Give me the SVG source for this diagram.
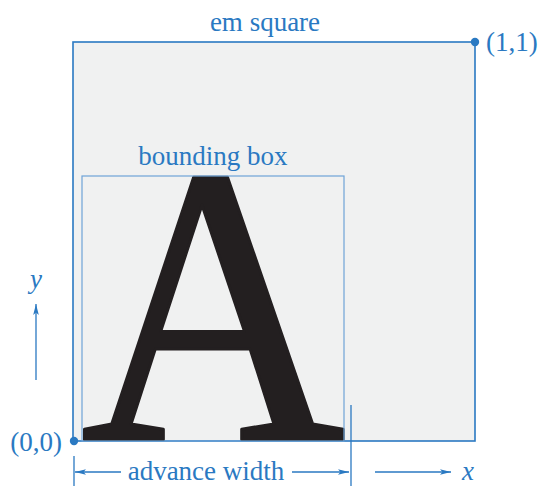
<svg xmlns="http://www.w3.org/2000/svg" width="541" height="486" viewBox="0 0 541 486">
<style>
.lbl{font-family:"Liberation Serif","Times New Roman",serif;font-size:27px;fill:#2a79c2}
.it{font-style:italic}
.ln{stroke:#2a79c2;stroke-width:1.3;fill:none}
</style>
<defs>
<marker id="ah" markerWidth="12" markerHeight="8" refX="11" refY="4" orient="auto" markerUnits="userSpaceOnUse">
<path d="M0,1.2 L11,4 L0,6.8 L2.5,4 Z" fill="#2a79c2"/>
</marker>
</defs>
<rect width="541" height="486" fill="#ffffff"/>
<g id="em-square">
<rect x="73" y="42" width="402" height="399" fill="#f0f1f1" stroke="#2a79c2" stroke-width="1.6"/>
<text class="lbl" x="265" y="31" text-anchor="middle">em square</text>
</g>
<g id="glyph">
<text transform="translate(80.8,439.5) scale(0.939,1.016)" font-family="Liberation Serif,serif" font-size="391" fill="#231f20" stroke="#231f20" stroke-width="3" stroke-linejoin="round">A</text>
</g>
<g id="bounding-box">
<rect x="82" y="176" width="262" height="265" fill="none" stroke="#6ea3d8" stroke-width="1.2"/>
<text class="lbl" x="213" y="165" text-anchor="middle">bounding box</text>
</g>
<g id="origin">
<circle cx="74" cy="441" r="4.2" fill="#2a79c2"/>
<text class="lbl" x="62" y="451" text-anchor="end">(0,0)</text>
</g>
<g id="corner">
<circle cx="475" cy="42" r="4.2" fill="#2a79c2"/>
<text class="lbl" x="486" y="51">(1,1)</text>
</g>
<g id="connectors">
<line class="ln" x1="74" y1="456" x2="74" y2="486"/>
<line class="ln" x1="351" y1="405" x2="351" y2="486"/>
<line class="ln" x1="121" y1="472" x2="75" y2="472" marker-end="url(#ah)"/>
<line class="ln" x1="292" y1="472" x2="349" y2="472" marker-end="url(#ah)"/>
<line class="ln" x1="375" y1="472" x2="451" y2="472" marker-end="url(#ah)"/>
<line class="ln" x1="36" y1="380" x2="36" y2="304" marker-end="url(#ah)"/>
</g>
<g id="labels">
<text class="lbl" x="206" y="480" text-anchor="middle">advance width</text>
<text class="lbl it" x="468" y="480" text-anchor="middle">x</text>
<text class="lbl it" x="36" y="288" text-anchor="middle">y</text>
</g>
</svg>
